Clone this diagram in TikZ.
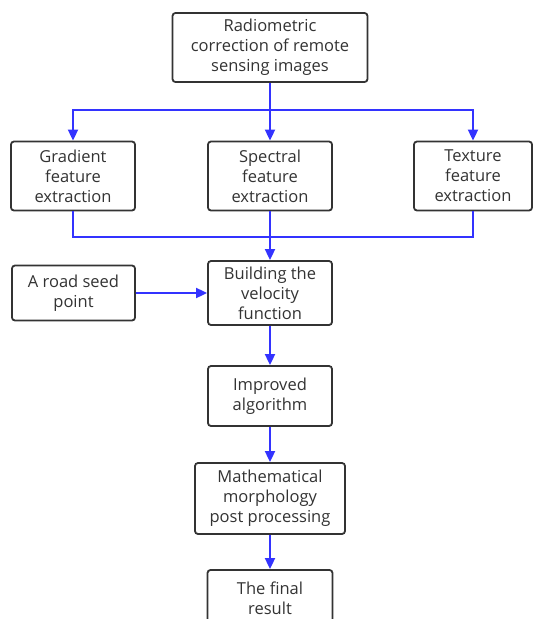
\documentclass[tikz,border=0pt]{standalone}
\usepackage{fontspec}
\setmainfont{Open Sans}
\usetikzlibrary{arrows.meta}
\definecolor{flow}{HTML}{3333FF}
\definecolor{ink}{HTML}{333333}
\begin{document}
\begin{tikzpicture}[x=1pt,y=-1pt,
  box/.style={draw=ink,line width=1.8pt,rounded corners=3pt,fill=white,text=ink,
    align=center,inner sep=0pt,font=\fontsize{16.5}{20}\selectfont},
  flowline/.style={draw=flow,line width=1.8pt},
  arr/.style={flowline,-{Triangle[length=11pt,width=10pt]}}]
\useasboundingbox (0,0) rectangle (533,619);
\clip (0,0) rectangle (533,619);
\node[box,minimum width=195pt,minimum height=69pt] (top) at (270,47.5) {Radiometric\\correction of remote\\sensing images};
\node[box,minimum width=124pt,minimum height=69pt] (grad) at (73,176) {Gradient\\feature\\extraction};
\node[box,minimum width=124pt,minimum height=69pt] (spec) at (270,176) {Spectral\\feature\\extraction};
\node[box,minimum width=118pt,minimum height=69pt] (tex) at (473,176) {Texture\\feature\\extraction};
\node[box,minimum width=123pt,minimum height=55pt] (seed) at (73.5,293) {A road seed\\point};
\node[box,minimum width=124pt,minimum height=64pt] (build) at (270,293) {Building the\\velocity\\function};
\node[box,minimum width=124pt,minimum height=60pt] (impr) at (270,396) {Improved\\algorithm};
\node[box,minimum width=150pt,minimum height=71pt] (math) at (270,498.5) {Mathematical\\morphology\\post processing};
\node[box,minimum width=125pt,minimum height=56pt] (final) at (270,598) {The final\\result};
\coordinate (split) at (270,110);
\coordinate (merge) at (270,237);
\draw[flowline] (top.south) -- (split);
\draw[arr] (split) -| (grad.north);
\draw[arr] (split) -- (spec.north);
\draw[arr] (split) -| (tex.north);
\draw[flowline] (grad.south) |- (merge);
\draw[flowline] (tex.south) |- (merge);
\draw[arr] (spec.south) -- (build.north);
\draw[arr] (seed.east) -- (build.west);
\draw[arr] (build.south) -- (impr.north);
\draw[arr] (impr.south) -- (math.north);
\draw[arr] (math.south) -- (final.north);
\end{tikzpicture}
\end{document}
